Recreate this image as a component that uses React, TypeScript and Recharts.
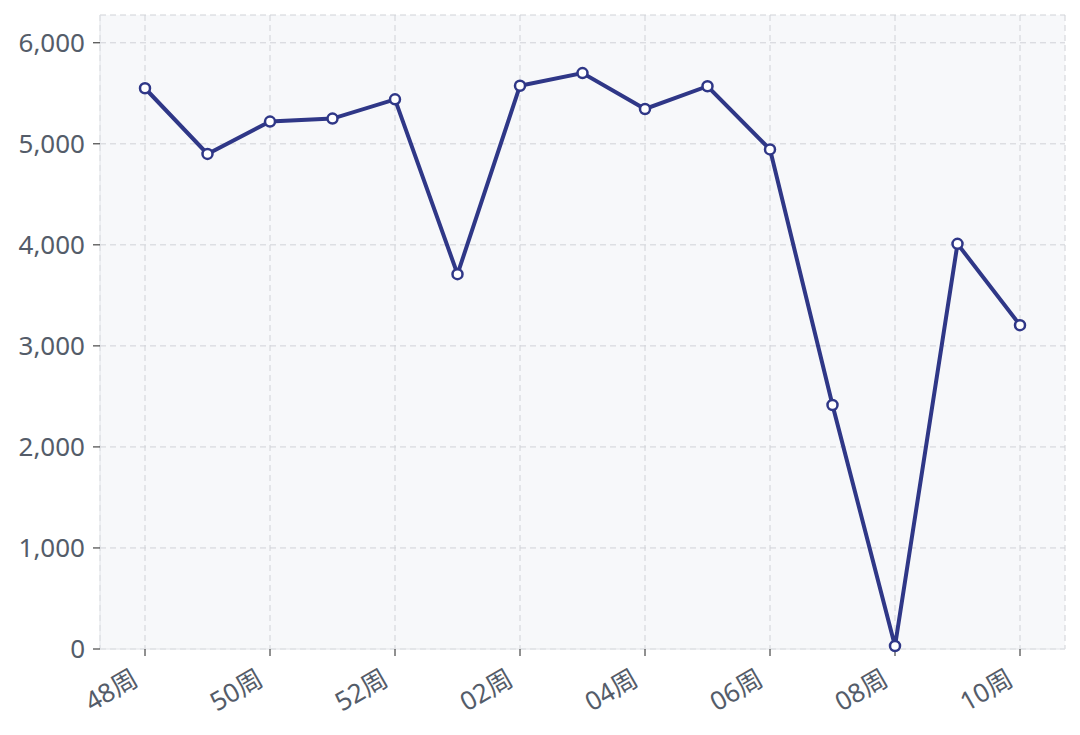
import React from 'react';
import { LineChart, Line, XAxis, YAxis, CartesianGrid } from 'recharts';

const weeks = ['48周', '49周', '50周', '51周', '52周', '01周', '02周', '03周', '04周', '05周', '06周', '07周', '08周', '09周', '10周'];
const values = [5550, 4900, 5220, 5250, 5440, 3710, 5575, 5700, 5345, 5570, 4945, 2415, 30, 4010, 3205];
const xTicks = ['48周', '50周', '52周', '02周', '04周', '06周', '08周', '10周'];
const yTicks = [0, 1000, 2000, 3000, 4000, 5000, 6000];

const data = weeks.map((w, i) => ({ week: w, value: values[i] }));

const FONT = '"Noto Sans", "Noto Sans CJK SC", sans-serif';
const TEXT = '#545c69';
const LINE = '#2f3787';

const XTick = (props: any) => {
  const { x, y, payload } = props;
  return (
    <g transform={`translate(${x - 5},${y + 26})`}>
      <text x={0} y={0} textAnchor="end" transform="rotate(-30)" style={{ fill: TEXT, fontSize: '26px', fontFamily: FONT }}>
        {payload.value}
      </text>
    </g>
  );
};

const fmt = (v: number) => v.toLocaleString('en-US');

export default function App() {
  return (
    <div style={{ position: 'fixed', left: 0, top: 0, width: 1080, height: 735, background: '#fff' }}>
      <LineChart width={1080} height={735} data={data} margin={{ top: 15, right: 15, left: 0, bottom: 0 }}>
        <CartesianGrid fill="#f7f8fa" stroke="#d0d2d7" strokeDasharray="6 4" />
        <XAxis
          dataKey="week"
          ticks={xTicks}
          interval={0}
          height={86}
          padding={{ left: 45, right: 45 }}
          axisLine={{ stroke: '#e2e4e8' }}
          tickLine={{ stroke: '#222' }}
          tickSize={7}
          tick={<XTick />}
        />
        <YAxis
          width={100}
          domain={[0, 6275]}
          ticks={yTicks}
          tickFormatter={fmt}
          axisLine={{ stroke: '#e2e4e8' }}
          tickLine={{ stroke: '#222' }}
          tickSize={7}
          tickMargin={8}
          tick={{ fill: TEXT, fontSize: 26, fontFamily: FONT }}
        />
        <Line
          type="linear"
          dataKey="value"
          stroke={LINE}
          strokeWidth={4}
          dot={{ r: 5, fill: '#fff', stroke: LINE, strokeWidth: 2.5 }}
          isAnimationActive={false}
        />
      </LineChart>
    </div>
  );
}
